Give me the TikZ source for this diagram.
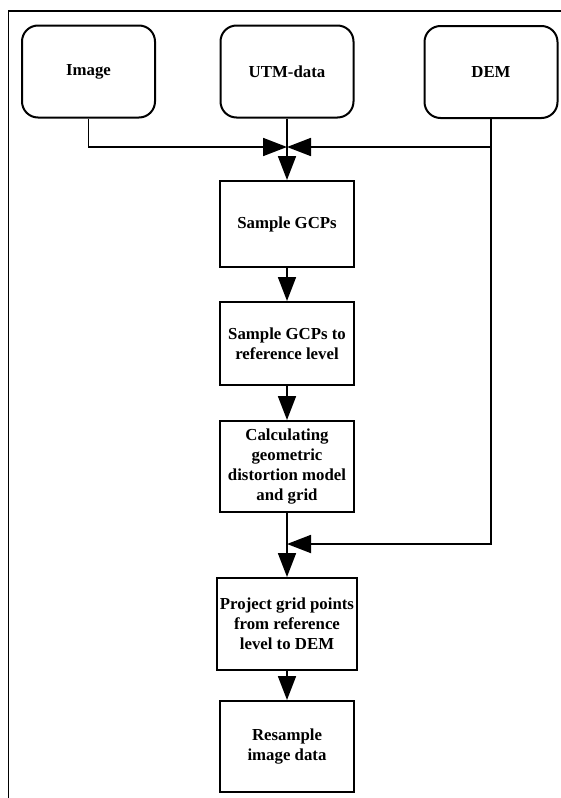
\documentclass[tikz,border=0pt]{standalone}
\usepackage{fontspec}
\setmainfont{Liberation Serif}
\usetikzlibrary{arrows.meta,positioning,calc}
\tikzset{
  txt/.style={font=\bfseries\fontsize{16.8}{20}\selectfont,align=center},
  src/.style={txt,draw,line width=2pt,rounded corners=16pt,minimum width=133pt,minimum height=92pt},
  stepbox/.style={txt,draw,line width=2pt,minimum width=134pt,minimum height=86pt},
  flow/.style={line width=1.8pt,-{Triangle[length=24pt,width=18pt]}}
}

\begin{document}
\begin{tikzpicture}[x=1pt,y=-1pt]
  \useasboundingbox (0,0) rectangle (561,798);
  \draw[line width=1.5pt] (8.5,798) -- (8.5,11) -- (561,11);
  % inputs
  \node[src] (img) at (88.5,71.5) {Image};
  \node[src] (utm) at (287,71.5) {UTM-data};
  \node[src] (dem) at (491,72) {DEM};
  % processing chain
  \node[stepbox] (gcp) at (287,224) {Sample GCPs};
  \node[stepbox,minimum height=83pt] (ref) at (287,343.5) {Sample GCPs to\\reference level};
  \node[stepbox,minimum height=91pt] (model) at (287,466.5) {Calculating\\geometric\\distortion model\\and grid};
  \node[stepbox,minimum width=139pt,minimum height=92pt] (proj) at (287,624) {Project grid points\\from reference\\level to DEM};
  \node[stepbox,minimum height=91pt] (res) at (287,746.5) {Resample\\image data};
  \coordinate (join) at (utm.south |- 0,147);
  \coordinate (meet) at (model.south |- 0,544);
  \draw[flow] (img.south) |- (join);
  \draw[flow] (dem.south) |- (join);
  \draw[flow] (dem.south) |- (meet);
  \draw[flow] (utm.south) -- (gcp.north);
  \draw[flow] (gcp) -- (ref);
  \draw[flow] (ref) -- (model);
  \draw[flow] (model) -- (proj);
  \draw[flow] (proj) -- (res);
\end{tikzpicture}
\end{document}
